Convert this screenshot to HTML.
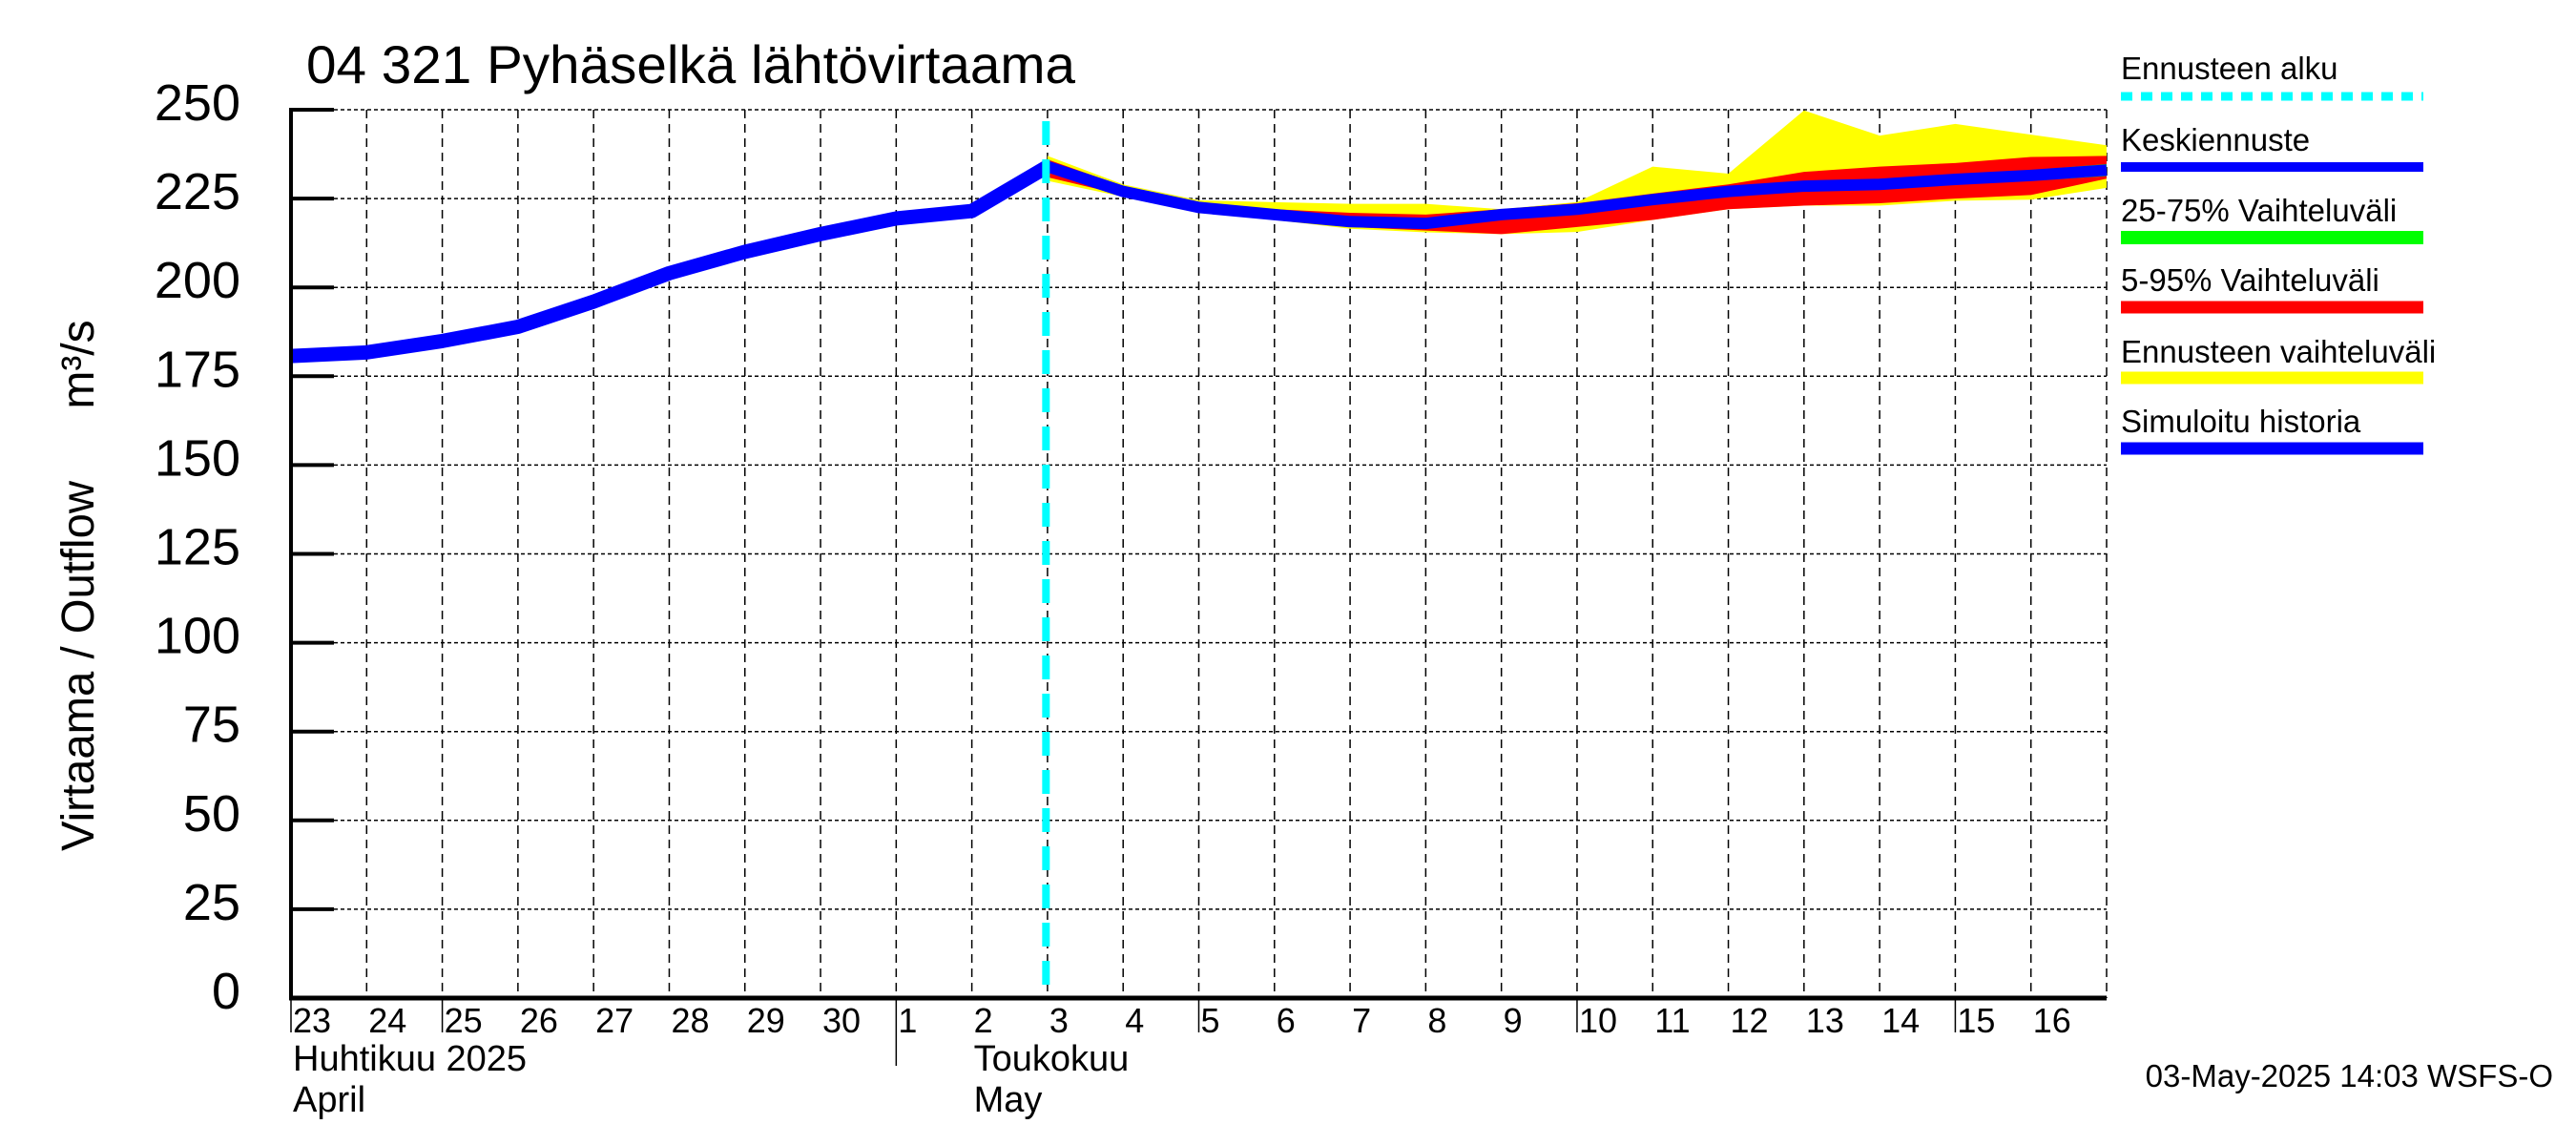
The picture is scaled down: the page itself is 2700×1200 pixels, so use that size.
<!DOCTYPE html>
<html><head><meta charset="utf-8"><style>
html,body{margin:0;padding:0;background:#fff;}
svg{display:block;font-family:"Liberation Sans",Arial,sans-serif;}
</style></head><body>
<svg id="chart" width="2700" height="1200" viewBox="0 0 2700 1200" xmlns="http://www.w3.org/2000/svg">
<rect x="0" y="0" width="2700" height="1200" fill="#fff"/>
<g id="grid"></g>
<g id="bands"></g>
<g id="lines"></g>
<g id="axes"></g>
<text x="321" y="87" font-size="56" textLength="806" lengthAdjust="spacingAndGlyphs">04 321 Pyhäselkä lähtövirtaama</text>
<text transform="translate(98,698) rotate(-90)" font-size="48" text-anchor="middle" textLength="388" lengthAdjust="spacingAndGlyphs">Virtaama / Outflow</text>
<text transform="translate(98,382) rotate(-90)" font-size="48" text-anchor="middle">m³/s</text>
<text x="2676" y="1139" font-size="33" text-anchor="end">03-May-2025 14:03 WSFS-O</text>
<g id="legend"></g>
</svg>
<script>
const dayLabels = ["23","24","25","26","27","28","29","30","1","2","3","4","5","6","7","8","9","10","11","12","13","14","15","16"];
const yTicks = [0,25,50,75,100,125,150,175,200,225,250];
const histDays = [0,1,2,3,4,5,6,7,8,9,10];
const histValues = [180.7,181.7,184.9,188.9,196,204,210,215,219.4,221.5,234];
const fcDays = [10,11,12,13,14,15,16,17,18,19,20,21,22,23,24];
const median = [234,227,222.5,220.5,218.5,218,220.5,222,224.7,227,228.5,229,230.4,231.5,233];
const p25 = [233,225.8,221.5,219.5,217.5,217,219.3,220.8,223.4,225.7,227.2,227.7,229,230,231.3];
const p75 = [235,228.2,223.5,221.5,219.5,219,221.7,223.2,226,228.3,229.8,230.3,231.8,233,234.7];
const p5 = [231,226,221.5,219.5,217,216,215,217,219,222,223,223.7,225,226,230.6];
const p95 = [236,228.5,224,222,221,220.5,222,223.7,226.4,229,232.5,234,235,236.7,237];
const ensMin = [230,225.5,221,219,216.5,215.5,215,215.6,219,222,223,223,224.4,224.7,228];
const ensMax = [237,229,224.5,224,223.5,223.5,222,224,234,232,249.8,242.7,246,243,240];
const forecastStartDay = 9.98;

const NS="http://www.w3.org/2000/svg";
const X0=305, X1=2208, NDAYS=24, Y0=1046, Y1=115, YMAX=250;
const xs=d=>X0+(X1-X0)*d/NDAYS;
const ys=v=>Y0-(Y0-Y1)*v/YMAX;
function mk(tag,attrs,parent){const e=document.createElementNS(NS,tag);for(const k in attrs)e.setAttribute(k,attrs[k]);parent.appendChild(e);return e;}
const grid=document.getElementById('grid'),bands=document.getElementById('bands'),lines=document.getElementById('lines'),axes=document.getElementById('axes'),legend=document.getElementById('legend');

yTicks.forEach(v=>{
  if(v>0){const l=mk('line',{x1:350,x2:X1,y1:ys(v),y2:ys(v),stroke:'#000','stroke-width':1.5,'stroke-dasharray':'4 3'},grid);
  
  }
  const t=mk('line',{x1:X0,x2:350,y1:ys(v),y2:ys(v),stroke:'#000','stroke-width':4},axes);
  
  
  const tx=mk('text',{x:252,y:ys(v)+11,'font-size':54,'text-anchor':'end'},axes);tx.textContent=v;
  
  
});
for(let i=1;i<=NDAYS;i++){
  const l=mk('line',{x1:xs(i),x2:xs(i),y1:Y1,y2:Y0,stroke:'#000','stroke-width':1.5,'stroke-dasharray':'9 6'},grid);
  
  
}
dayLabels.forEach((s,i)=>{
  const t=mk('text',{x:xs(i)+2,y:1082,'font-size':36},axes);t.textContent=s;
  
  
});
[[0,1082],[2,1082],[8,1117],[12,1082],[17,1082],[22,1082]].forEach(p=>{
  const l=mk('line',{x1:xs(p[0]),x2:xs(p[0]),y1:Y0,y2:p[1],stroke:'#000','stroke-width':1.5},axes);
  
  
});
[["Huhtikuu  2025",xs(0)+2,1122],["April",xs(0)+2,1165],["Toukokuu",xs(9)+2,1122],["May",xs(9)+2,1165]].forEach(m=>{
  const t=mk('text',{x:m[1],y:m[2],'font-size':38},axes);t.textContent=m[0];t.setAttribute('xml:space','preserve');
  
  
});

function band(lo,hi,color,name){
  let d='M'+fcDays.map((x,i)=>xs(x)+','+ys(hi[i])).join(' L');
  for(let i=fcDays.length-1;i>=0;i--)d+=' L'+xs(fcDays[i])+','+ys(lo[i]);
  const p=mk('path',{d:d+'Z',fill:color},bands);
  
  
}
band(ensMin,ensMax,'#ffff00','ensemble-range-band');
band(p5,p95,'#ff0000','p5-95-band');
band(p25,p75,'#00ff00','p25-75-band');

function line(days,vals,w,color,name){
  const p=mk('polyline',{points:days.map((x,i)=>xs(x)+','+ys(vals[i])).join(' '),fill:'none',stroke:color,'stroke-width':w,'stroke-linejoin':'round'},lines);
  
  
}
line(histDays,histValues,15,'#0000ff','simulated-history-line');
line(fcDays,median,12,'#0000ff','median-forecast-line');

const fs=mk('line',{x1:xs(forecastStartDay),x2:xs(forecastStartDay),y1:127,y2:Y0,stroke:'#00ffff','stroke-width':8,'stroke-dasharray':'25 15'},lines);



const ax1=mk('line',{x1:X0,x2:X0,y1:Y1-2,y2:Y0+2,stroke:'#000','stroke-width':4},axes);


const ax2=mk('line',{x1:X0-2,x2:X1,y1:Y0,y2:Y0,stroke:'#000','stroke-width':5},axes);



const legItems=[["Ennusteen alku",'#00ffff',9,true,83,101],["Keskiennuste",'#0000ff',10,false,158,175],["25-75% Vaihteluväli",'#00ff00',14,false,232,249],["5-95% Vaihteluväli",'#ff0000',13,false,305,322],["Ennusteen vaihteluväli",'#ffff00',13,false,380,396],["Simuloitu historia",'#0000ff',13,false,453,470]];
legItems.forEach(it=>{
  const t=mk('text',{x:2223,y:it[4],'font-size':33},legend);t.textContent=it[0];
  
  
  const a={x1:2223,x2:2540,y1:it[5],y2:it[5],stroke:it[1],'stroke-width':it[2]};
  if(it[3])a['stroke-dasharray']='12 9';
  const s=mk('line',a,legend);
  
  
});
</script>
</body></html>
